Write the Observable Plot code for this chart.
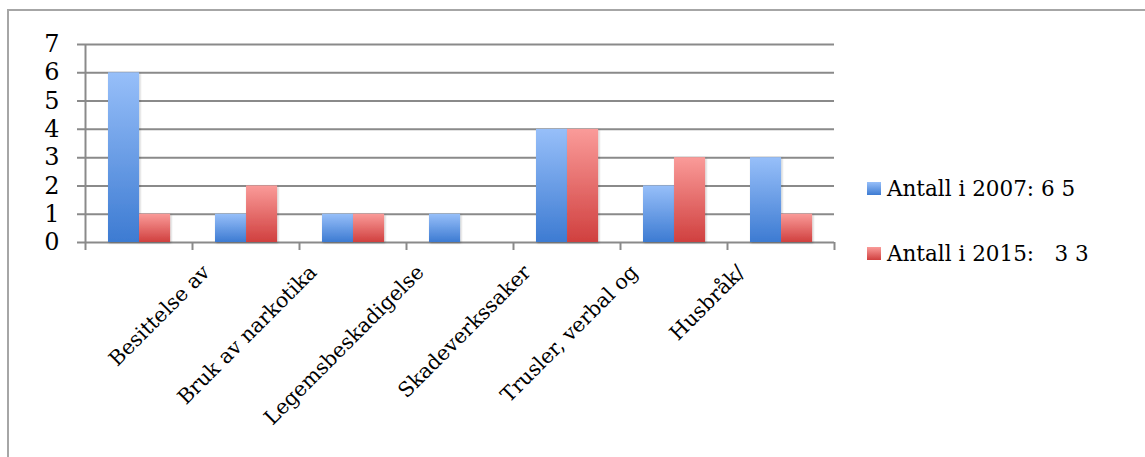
<!DOCTYPE html>
<html>
<head>
<meta charset="utf-8">
<script src="https://cdn.jsdelivr.net/npm/d3@7"></script>
<script src="https://cdn.jsdelivr.net/npm/@observablehq/plot@0.6"></script>
<style>
  body { margin: 0; background: #fff; width: 1145px; height: 457px; overflow: hidden; position: relative; font-family: "DejaVu Serif", serif; }
  #frame { position: absolute; left: 7px; top: 9px; width: 1200px; height: 520px; border-left: 2px solid #a6a6a6; border-top: 2px solid #a6a6a6; }
  #chart { position: absolute; left: 0; top: 0; }
  #legend { position: absolute; left: 867px; top: 176px; font-size: 21.5px; color: #000; }
  .item { display: flex; align-items: center; height: 25px; margin-bottom: 40px; white-space: pre; }
  .sw { width: 14px; height: 13px; margin-right: 6px; }
</style>
</head>
<body>
<div id="frame"></div>
<div id="chart"></div>
<div id="legend"></div>
<script>
// Offence categories (the last one has no visible label)
const categories = ["Besittelse av", "Bruk av narkotika", "Legemsbeskadigelse", "Skadeverkssaker", "Trusler, verbal og", "Husbråk/", ""];
const values2007 = [6, 1, 1, 1, 4, 2, 3];
const values2015 = [1, 2, 1, 0, 4, 3, 1];
const seriesNames = ["Antall i 2007: 6 5", "Antall i 2015:   3 3"];
const yTicks = [0, 1, 2, 3, 4, 5, 6, 7];

const rows2007 = categories.map((c, i) => ({cat: c, value: values2007[i]}));
const rows2015 = categories.map((c, i) => ({cat: c, value: values2015[i]}));

const W = 1145, H = 457;
const mL = 85, mR = 311, mT = 44, mB = 215;
const bw = (W - mL - mR) / categories.length;   // width of one category band
const plotH = H - mT - mB;
const grid = "#8a8a8a";

const svg = Plot.plot({
  width: W,
  height: H,
  marginLeft: mL,
  marginRight: mR,
  marginTop: mT,
  marginBottom: mB,
  x: {type: "band", domain: categories, padding: 0, axis: null},
  y: {domain: [0, 7], axis: null},
  style: {fontFamily: "DejaVu Serif, serif", background: "transparent", overflow: "visible"},
  marks: [
    // horizontal gridlines, each with a short tick left of the axis
    Plot.ruleY(yTicks, {stroke: grid, strokeWidth: 2, insetLeft: -8}),
    // y tick labels
    Plot.text(yTicks, {y: d => d, frameAnchor: "left", dx: -26, textAnchor: "end", fontSize: 24, fill: "#000"}),
    // bars
    Plot.barY(rows2007, {x: "cat", y: "value", fill: "url(#grad2007)", insetLeft: bw * 0.215, insetRight: bw * 0.495}),
    Plot.barY(rows2015, {x: "cat", y: "value", fill: "url(#grad2015)", insetLeft: bw * 0.505, insetRight: bw * 0.205}),
    // vertical axis line
    Plot.ruleX([categories[0]], {x: d => d, dx: -bw / 2, stroke: grid, strokeWidth: 2, insetBottom: -8}),
    // category boundary ticks
    Plot.ruleX(categories.slice(1), {x: d => d, dx: -bw / 2, stroke: grid, strokeWidth: 2, insetTop: plotH, insetBottom: -8}),
    Plot.ruleX([categories[categories.length - 1]], {x: d => d, dx: bw / 2, stroke: grid, strokeWidth: 2, insetTop: plotH, insetBottom: -8}),
    // rotated category labels
    Plot.text(categories, {x: d => d, text: d => d, frameAnchor: "bottom", rotate: -45, textAnchor: "end", dx: 72, dy: 31, fontSize: 20.5, fill: "#000"})
  ]
});

// gradient fills and a soft shadow for the bars
const defs = d3.select(svg).insert("defs", ":first-child");
function grad(id, top, bottom) {
  const g = defs.append("linearGradient").attr("id", id).attr("x1", 0).attr("y1", 0).attr("x2", 0).attr("y2", 1);
  g.append("stop").attr("offset", "0%").attr("stop-color", top);
  g.append("stop").attr("offset", "100%").attr("stop-color", bottom);
}
grad("grad2007", "#97bff9", "#3d7bd2");
grad("grad2015", "#fa9b99", "#d0403f");
const f = defs.append("filter").attr("id", "barShadow").attr("x", "-20%").attr("y", "-20%").attr("width", "140%").attr("height", "140%");
f.append("feDropShadow").attr("dx", 1).attr("dy", 1).attr("stdDeviation", 1.2).attr("flood-color", "#000").attr("flood-opacity", 0.25);
d3.select(svg).selectAll("g[aria-label='bar']").attr("filter", "url(#barShadow)");

document.getElementById("chart").appendChild(svg);

// legend
const swatches = ["linear-gradient(#97bff9, #3d7bd2)", "linear-gradient(#fa9b99, #d0403f)"];
const legend = d3.select("#legend");
seriesNames.forEach((name, i) => {
  const item = legend.append("div").attr("class", "item");
  item.append("div").attr("class", "sw").style("background", swatches[i]);
  item.append("span").text(name);
});
</script>
</body>
</html>
